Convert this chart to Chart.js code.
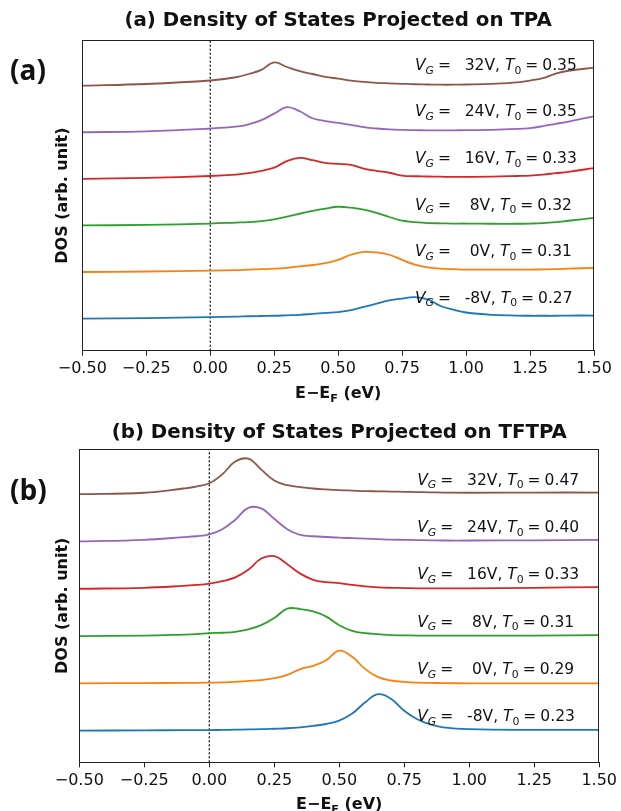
<!DOCTYPE html>
<html>
<head>
<meta charset="utf-8">
<script src="https://cdn.jsdelivr.net/npm/chart.js@4.4.1/dist/chart.umd.min.js"></script>
<style>
    html, body { margin: 0; padding: 0; background: #fff; }
    body { width: 621px; height: 811px; position: relative; overflow: hidden; }
    .panel { position: absolute; left: 0; width: 621px; }
    #wrapA { top: 0; height: 411px; }
    #wrapB { top: 411px; height: 400px; }
    .tag { position: absolute; left: 10px; height: 32px; line-height: 32px;
           font: bold 28px 'Open Sans', sans-serif; color: #111; }
</style>
</head>
<body>
<div class="panel" id="wrapA"><canvas id="dosA" width="621" height="411"></canvas></div>
<div class="panel" id="wrapB"><canvas id="dosB" width="621" height="400"></canvas></div>
<div class="tag" style="top:50px">(a)</div>
<div class="tag" style="top:470px">(b)</div>
<script>
// ---- data (DOS in arb. units, before the vertical shift) ----
var gateVoltages = ['-8', '0', '8', '16', '24', '32'];
var t0TPA   = ['0.27', '0.31', '0.32', '0.33', '0.35', '0.35'];
var t0TFTPA = ['0.23', '0.29', '0.31', '0.33', '0.40', '0.47'];

var energyA = [-0.5, -0.25, 0, 0.1, 0.15, 0.2, 0.25, 0.3, 0.35, 0.4, 0.45, 0.5, 0.55, 0.6, 0.65,
               0.7, 0.75, 0.8, 0.85, 0.9, 0.95, 1.0, 1.1, 1.2, 1.25, 1.3, 1.35, 1.4, 1.5];
var tpaM8  = [0, 0.01, 0.03, 0.04, 0.05, 0.055, 0.06, 0.07, 0.08, 0.10, 0.12, 0.14, 0.18, 0.25, 0.32,
              0.39, 0.43, 0.46, 0.41, 0.27, 0.19, 0.13, 0.08, 0.065, 0.06, 0.06, 0.06, 0.065, 0.065];
var tpa0   = [0, 0.01, 0.03, 0.04, 0.05, 0.06, 0.07, 0.09, 0.12, 0.15, 0.19, 0.26, 0.37, 0.43, 0.42,
              0.37, 0.26, 0.16, 0.10, 0.07, 0.06, 0.05, 0.05, 0.05, 0.05, 0.055, 0.06, 0.07, 0.09];
var tpa8   = [0, 0.01, 0.04, 0.06, 0.07, 0.09, 0.13, 0.19, 0.25, 0.31, 0.36, 0.40, 0.38, 0.34, 0.27,
              0.18, 0.10, 0.07, 0.05, 0.045, 0.04, 0.04, 0.035, 0.035, 0.04, 0.05, 0.07, 0.10, 0.16];
var tpa16  = [0, 0.02, 0.06, 0.09, 0.12, 0.17, 0.24, 0.38, 0.45, 0.40, 0.34, 0.32, 0.30, 0.22, 0.17,
              0.13, 0.07, 0.055, 0.05, 0.045, 0.04, 0.04, 0.045, 0.06, 0.07, 0.09, 0.12, 0.15, 0.23];
var tpa24  = [0, 0.02, 0.08, 0.12, 0.17, 0.26, 0.40, 0.54, 0.45, 0.30, 0.24, 0.20, 0.16, 0.11, 0.08,
              0.06, 0.05, 0.045, 0.04, 0.04, 0.04, 0.045, 0.05, 0.07, 0.09, 0.13, 0.18, 0.23, 0.34];
var tpa32  = [0, 0.035, 0.11, 0.18, 0.25, 0.34, 0.50, 0.40, 0.31, 0.25, 0.19, 0.15, 0.11, 0.08, 0.06,
              0.05, 0.04, 0.03, 0.025, 0.02, 0.02, 0.025, 0.04, 0.07, 0.11, 0.16, 0.26, 0.32, 0.385];

var energyB = [-0.5, -0.25, -0.1, -0.05, 0, 0.05, 0.1, 0.15, 0.2, 0.25, 0.3, 0.35, 0.4, 0.45, 0.5,
               0.55, 0.6, 0.65, 0.7, 0.75, 0.8, 0.85, 0.9, 1.0, 1.25, 1.5];
var tftpaM8 = [0, 0.005, 0.01, 0.01, 0.01, 0.015, 0.02, 0.025, 0.03, 0.04, 0.05, 0.07, 0.10, 0.14, 0.21,
               0.36, 0.60, 0.77, 0.67, 0.42, 0.24, 0.13, 0.07, 0.03, 0.015, 0.015];
var tftpa0  = [0, 0.005, 0.01, 0.01, 0.015, 0.02, 0.03, 0.05, 0.07, 0.11, 0.18, 0.30, 0.37, 0.49, 0.69,
               0.56, 0.30, 0.13, 0.06, 0.03, 0.015, 0.01, 0.005, 0, 0, 0];
var tftpa8  = [0, 0.01, 0.03, 0.04, 0.06, 0.07, 0.09, 0.14, 0.23, 0.38, 0.58, 0.57, 0.52, 0.41, 0.23,
               0.11, 0.06, 0.04, 0.02, 0.015, 0.01, 0.01, 0.01, 0.01, 0.01, 0.02];
var tftpa16 = [0, 0.02, 0.06, 0.08, 0.11, 0.16, 0.24, 0.40, 0.64, 0.69, 0.52, 0.32, 0.19, 0.14, 0.12,
               0.08, 0.05, 0.03, 0.02, 0.015, 0.01, 0.01, 0.01, 0.01, 0.02, 0.035];
var tftpa24 = [0, 0.035, 0.09, 0.11, 0.15, 0.26, 0.46, 0.71, 0.70, 0.48, 0.26, 0.14, 0.11, 0.095, 0.08,
               0.07, 0.06, 0.05, 0.04, 0.035, 0.03, 0.025, 0.02, 0.02, 0.025, 0.035];
var tftpa32 = [0, 0.03, 0.12, 0.16, 0.23, 0.42, 0.69, 0.75, 0.52, 0.29, 0.19, 0.15, 0.12, 0.10, 0.085,
               0.075, 0.065, 0.06, 0.055, 0.05, 0.045, 0.04, 0.035, 0.03, 0.035, 0.035];

// vertical shift of each curve (same units as DOS)
var shiftA = [0.69, 1.69, 2.69, 3.69, 4.69, 5.69];
var shiftB = [0.67, 1.67, 2.67, 3.67, 4.67, 5.67];

var lineColors = ['#1f77b4', '#ff7f0e', '#2ca02c', '#d62728', '#9467bd', '#8c564b'];
var FONT = "'DejaVu Sans', sans-serif";
var INK = '#111';

function toPoints(energy, dos, shift) {
    return energy.map(function(e, k) { return { x: e, y: dos[k] + shift }; });
}

function pad3(s) {
    while (s.length < 3) s = ' ' + s;
    return s;
}

// draw a run of text pieces, some italic and/or subscript, starting at (x, baseline y)
function drawRich(ctx, pieces, x, y, size) {
    pieces.forEach(function(p) {
        var sz = p.sub ? size * 0.7 : size;
        ctx.font = (p.italic ? 'italic ' : '') + (p.bold ? 'bold ' : '') + sz + 'px ' + FONT;
        ctx.fillText(p.t, x, y + (p.sub ? size * 0.24 : 0));
        x += ctx.measureText(p.t).width + (p.gap || 0);
    });
}

function richWidth(ctx, pieces, size) {
    var w = 0;
    pieces.forEach(function(p) {
        var sz = p.sub ? size * 0.7 : size;
        ctx.font = (p.italic ? 'italic ' : '') + (p.bold ? 'bold ' : '') + sz + 'px ' + FONT;
        w += ctx.measureText(p.t).width + (p.gap || 0);
    });
    return w;
}

var decorPlugin = {
    id: 'decor',
    afterDatasetsDraw: function(chart, args, o) {
        var ctx = chart.ctx, a = chart.chartArea;
        var xs = chart.scales.x, ys = chart.scales.y;
        ctx.save();
        // box
        ctx.strokeStyle = '#222';
        ctx.lineWidth = 1;
        ctx.strokeRect(Math.round(a.left) + 0.5, Math.round(a.top) + 0.5,
                       Math.round(a.right - a.left) - 1, Math.round(a.bottom - a.top));
        ctx.fillStyle = INK;
        ctx.textAlign = 'left';
        ctx.textBaseline = 'alphabetic';
        // curve annotations
        o.t0.forEach(function(t0, i) {
            var x = xs.getPixelForValue(o.labelX);
            var y = ys.getPixelForValue(o.shift[i] + o.labelDy) + 5.6;
            drawRich(ctx, [
                { t: 'V', italic: true },
                { t: 'G', italic: true, sub: true, gap: 4 },
                { t: '=', gap: 4 },
                { t: ' ' + pad3(gateVoltages[i]) + 'V, ' },
                { t: 'T', italic: true },
                { t: '0', sub: true, gap: 4 },
                { t: '=', gap: 4 },
                { t: t0 }
            ], x, y, 15.5);
        });
        // x label
        var xl = [{ t: 'E\u2212E', bold: true }, { t: 'F', bold: true, sub: true }, { t: ' (eV)', bold: true }];
        var w = richWidth(ctx, xl, 16);
        drawRich(ctx, xl, (a.left + a.right) / 2 - w / 2, a.bottom + 47, 16);
        // y label
        ctx.translate(o.ylabelX, (a.top + a.bottom) / 2);
        ctx.rotate(-Math.PI / 2);
        ctx.textAlign = 'center';
        ctx.textBaseline = 'middle';
        ctx.font = 'bold 16px ' + FONT;
        ctx.fillText('DOS (arb. unit)', 0, 0);
        ctx.restore();
    }
};

function makeChart(id, energy, series, shift, t0, opt) {
    var datasets = series.map(function(dos, i) {
        return {
            data: toPoints(energy, dos, shift[i]),
            borderColor: lineColors[i],
            borderWidth: 1.8,
            pointRadius: 0,
            fill: false,
            tension: 0.4
        };
    });
    // Fermi level marker
    datasets.push({
        data: [{ x: 0, y: 0 }, { x: 0, y: opt.yMax }],
        borderColor: '#000',
        borderWidth: 1.2,
        borderDash: [2, 2],
        pointRadius: 0
    });

    return new Chart(document.getElementById(id).getContext('2d'), {
        type: 'line',
        data: { datasets: datasets },
        plugins: [decorPlugin],
        options: {
            responsive: false,
            animation: false,
            devicePixelRatio: 1,
            events: [],
            layout: { padding: opt.padding },
            plugins: {
                legend: { display: false },
                tooltip: { enabled: false },
                title: {
                    display: true,
                    text: opt.title,
                    color: INK,
                    font: { family: FONT, size: 19.8, weight: 'bold', lineHeight: 1.2 },
                    padding: opt.titlePad
                },
                decor: { t0: t0, shift: shift, labelX: 0.80, labelDy: opt.labelDy, ylabelX: 63 }
            },
            scales: {
                x: {
                    type: 'linear',
                    min: -0.5,
                    max: 1.5,
                    afterFit: function(s) { s.height = opt.xHeight; },
                    border: { display: true, color: '#222', width: 1 },
                    grid: { drawOnChartArea: false, drawTicks: true, tickLength: 5, color: '#222' },
                    ticks: {
                        stepSize: 0.25,
                        autoSkip: false,
                        maxRotation: 0,
                        padding: 4,
                        color: INK,
                        font: { family: FONT, size: 16 },
                        callback: function(v) { return (v < 0 ? '\u2212' : '') + Math.abs(v).toFixed(2); }
                    }
                },
                y: { display: false, min: 0, max: opt.yMax }
            }
        }
    });
}

makeChart('dosA', energyA, [tpaM8, tpa0, tpa8, tpa16, tpa24, tpa32], shiftA, t0TPA, {
    title: '(a) Density of States Projected on TPA',
    padding: { left: 82.3, right: 27, top: 0, bottom: 0 },
    titlePad: { top: 9, bottom: 7.7 },
    xHeight: 60.3,
    yMax: 6.66,
    labelDy: 0.46
});

makeChart('dosB', energyB, [tftpaM8, tftpa0, tftpa8, tftpa16, tftpa24, tftpa32], shiftB, t0TFTPA, {
    title: '(b) Density of States Projected on TFTPA',
    padding: { left: 79.3, right: 21.7, top: 0, bottom: 0 },
    titlePad: { top: 10, bottom: 4.5 },
    xHeight: 48.7,
    yMax: 6.62,
    labelDy: 0.32
});
</script>
</body>
</html>
